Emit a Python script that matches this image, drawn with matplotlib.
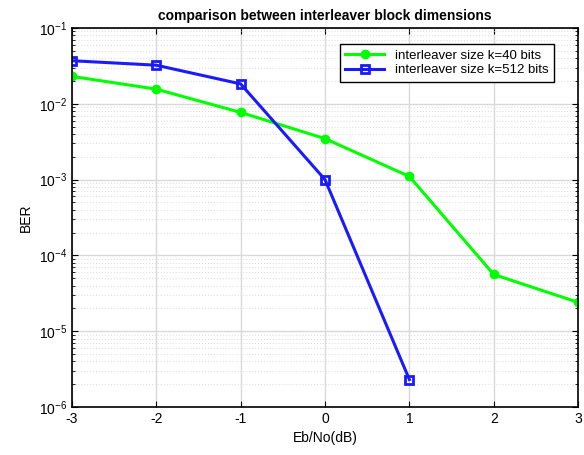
import numpy as np
import matplotlib
matplotlib.use("Agg")
import matplotlib.pyplot as plt
from matplotlib.ticker import LogLocator, LogFormatterMathtext, NullFormatter

plt.rcParams['font.family'] = ['Liberation Sans', 'DejaVu Sans']
plt.rcParams['mathtext.fontset'] = 'custom'
plt.rcParams['mathtext.rm'] = 'Liberation Sans'
plt.rcParams['mathtext.it'] = 'Liberation Sans'
plt.rcParams['axes.unicode_minus'] = False

# data
ebno = [-3, -2, -1, 0, 1, 2, 3]
ber_k40 = [0.023, 0.0156, 0.0077, 0.00347, 0.0011, 5.6e-5, 2.4e-5]
ebno_512 = [-3, -2, -1, 0, 1]
ber_k512 = [0.037, 0.0323, 0.0183, 1.0e-3, 2.3e-6]

fig = plt.figure(figsize=(5.84, 4.55), dpi=100)
ax = fig.add_axes([0.123, 0.1055, 0.867, 0.833])

ax.semilogy(ebno, ber_k40, color='#00ff00', lw=2.2, marker='o', ms=6,
            mfc='#00ff00', mec='#00ff00', label='interleaver size k=40 bits')
ax.semilogy(ebno_512, ber_k512, color='#1a1aff', lw=2.2, marker='s', ms=6,
            mfc='none', mec='#1a1aff', mew=2, label='interleaver size k=512 bits')

ax.set_xlim(-3, 3)
ax.set_ylim(1e-6, 1e-1)
ax.set_xticks(ebno)
ax.yaxis.set_major_locator(LogLocator(base=10, numticks=10))
ax.yaxis.set_major_formatter(LogFormatterMathtext())
ax.yaxis.set_minor_locator(LogLocator(base=10, subs=np.arange(2, 10), numticks=20))
ax.yaxis.set_minor_formatter(NullFormatter())

ax.grid(True, which='major', color='#d9d9d9', lw=1, ls='-')
ax.grid(True, which='minor', axis='y', color='#e0e0e0', lw=0.8, ls=':')
ax.set_axisbelow(True)
ax.tick_params(which='both', direction='in', top=True, right=True, labelsize=10)
ax.tick_params(which='major', length=4)
ax.tick_params(which='minor', length=2)
for s in ax.spines.values():
    s.set_linewidth(1.2)

ax.set_xlabel('Eb/No(dB)', fontsize=10)
ax.set_ylabel('BER', fontsize=10)
ax.set_title('comparison between interleaver block dimensions', fontsize=10,
             fontweight='bold')
leg = ax.legend(loc='upper right', bbox_to_anchor=(0.965, 0.975), fontsize=9.5,
                fancybox=False, edgecolor='black', framealpha=1,
                borderpad=0.4, labelspacing=0.2, handlelength=3)
leg.get_frame().set_linewidth(1)

fig.savefig('out.png', dpi=100)
